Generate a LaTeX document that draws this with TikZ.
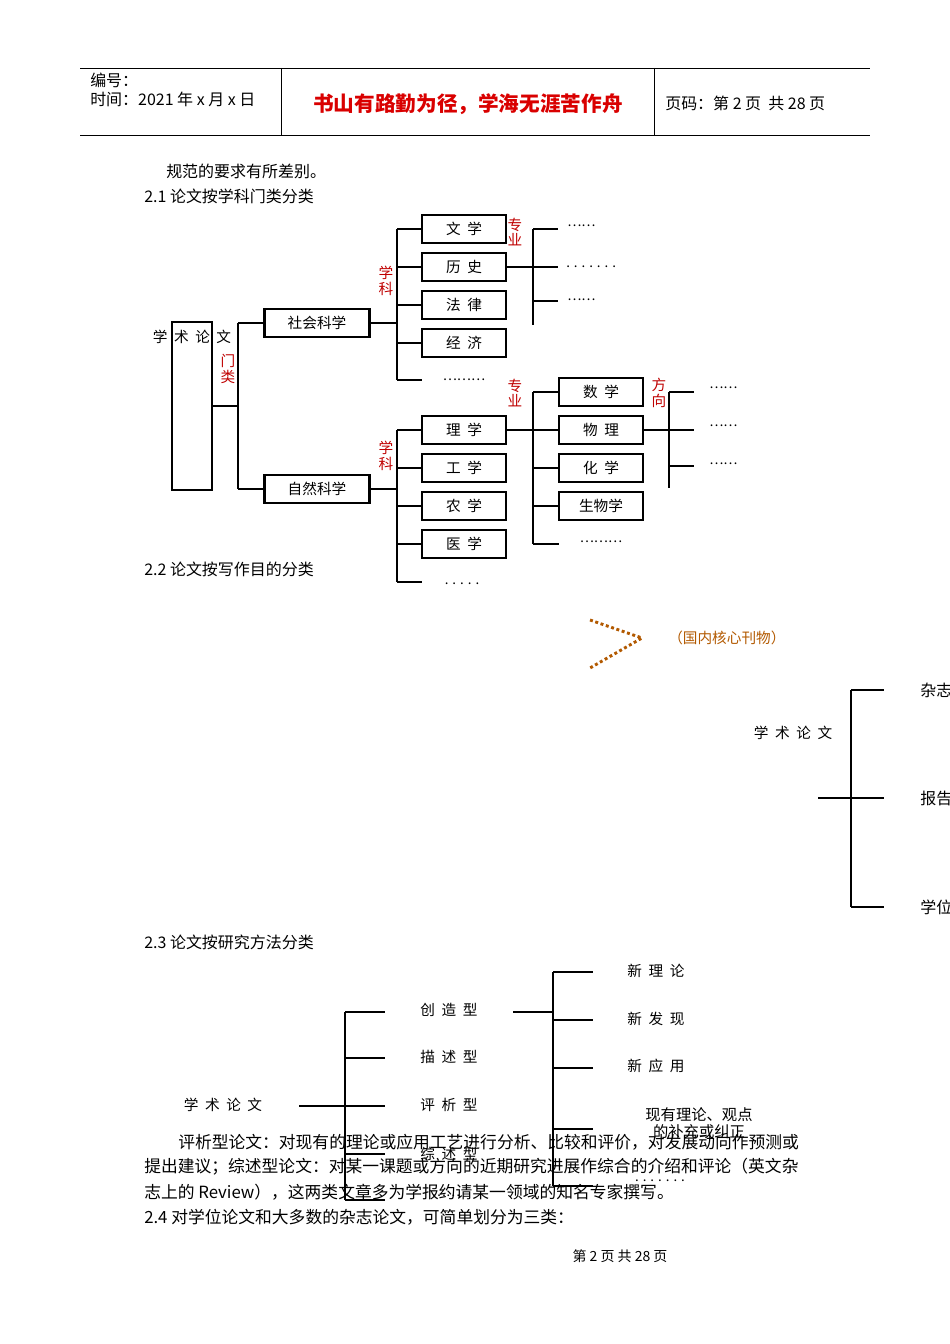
\documentclass[tikz,border=0pt]{standalone}
\usepackage{fontspec}
\setmainfont{Noto Sans CJK SC}
\begin{document}
\begin{tikzpicture}[x=0.0264cm,y=-0.0264cm,
  ln/.style={line width=1.7pt},
  box/.style={draw,line width=1.7pt,minimum width=2.2cm,minimum height=0.74cm,inner sep=0pt,font=\fontsize{11}{12}\selectfont},
  tx/.style={inner sep=0pt,font=\fontsize{11}{12}\selectfont},
  bt/.style={inner sep=0pt,anchor=west,font=\fontsize{12}{13}\selectfont},
  pt/.style={inner sep=0pt,anchor=west,font=\fontsize{12.6}{13}\selectfont},
  rd/.style={inner sep=0pt,text=red!75!black,font=\fontsize{11}{11.5}\selectfont,align=center},
  dt/.style={inner sep=0pt,font=\fontsize{10}{10}\selectfont}]
\useasboundingbox (0,0) rectangle (950,1344);
% header
\draw[line width=0.6pt] (80,68)--(870,68) (80,135)--(870,135) (281,68)--(281,135) (654,68)--(654,135);
\node[bt] (h1) at (90,80) {编号：};
\node[bt] (h2) at (90,99) {时间：2021 年 x 月 x 日};
\node[inner sep=0pt,text=red!85!black,font=\bfseries\fontsize{15.5}{17}\selectfont] (h3) at (468,104) {书山有路勤为径，学海无涯苦作舟};
\node[bt] (h4) at (665,103) {页码：第 2 页\ \ 共 28 页};
% body
\node[bt] (p1) at (166,171) {规范的要求有所差别。};
\node[bt] (p2) at (144,196) {2.1 论文按学科门类分类};
% diagram 1
\node[draw,line width=1.7pt,minimum width=1.06cm,minimum height=4.44cm,inner sep=0pt] (root) at (192,406) {};
\node[tx] (roott) at (192,337) {学\ \ 术\ \ 论\ \ 文};
\node[rd] (ml) at (228,369) {门\\类};
\coordinate (v1t) at (238,323); \coordinate (v1b) at (238,489); \coordinate (v1m) at (238,406);
\draw[ln] (root.east|-v1m)--(v1m) (v1t)--(v1b);
\node[box,minimum width=2.77cm] (sh) at (317,323) {社会科学};
\node[box,minimum width=2.77cm] (zr) at (317,489) {自然科学};
\draw[ln] (v1t)--(sh.west) (v1b)--(zr.west);
% social
\node[box] (wx) at (464,229) {文\ \ 学};
\node[box] (ls) at (464,267) {历\ \ 史};
\node[box] (fl) at (464,305) {法\ \ 律};
\node[box] (jj) at (464,343) {经\ \ 济};
\node[dt] (sd) at (464,380) {………};
\node[rd] (xk1) at (386,281) {学\\科};
\coordinate (s1) at (397,229); \coordinate (s5) at (397,380);
\draw[ln] (sh.east)--(397,323) (s1)--(s5);
\draw[ln] (s1)--(wx.west) (397,267)--(ls.west) (397,305)--(fl.west) (397,343)--(jj.west) (s5)--(422,380);
\node[rd] (zy1) at (515,232) {专\\业};
\coordinate (a1) at (533,229); \coordinate (a3) at (533,325);
\draw[ln] (ls.east)--(533,267) (a1)--(a3) (a1)--(558,229) (533,267)--(558,267) (533,301)--(558,301);
\node[dt,anchor=west] (d1) at (567,226) {……};
\node[dt,anchor=west] (d2) at (566,267) {. . . . . . .};
\node[dt,anchor=west] (d3) at (567,300) {……};
% natural
\node[box] (lx) at (464,430) {理\ \ 学};
\node[box] (gx) at (464,468) {工\ \ 学};
\node[box] (nx) at (464,506) {农\ \ 学};
\node[box] (yx) at (464,544) {医\ \ 学};
\node[dt] (nd) at (462,584) {. . . . .};
\node[rd] (xk2) at (386,456) {学\\科};
\coordinate (n1) at (397,430); \coordinate (n5) at (397,582);
\draw[ln] (zr.east)--(397,489) (n1)--(n5);
\draw[ln] (n1)--(lx.west) (397,468)--(gx.west) (397,506)--(nx.west) (397,544)--(yx.west) (n5)--(422,582);
\node[rd] (zy2) at (515,393) {专\\业};
\node[box] (sx) at (601,392) {数\ \ 学};
\node[box] (wl) at (601,430) {物\ \ 理};
\node[box] (hx) at (601,468) {化\ \ 学};
\node[box] (sw) at (601,506) {生物学};
\node[dt] (md) at (601,542) {………};
\coordinate (m1) at (533,392); \coordinate (m5) at (533,544);
\draw[ln] (lx.east)--(533,430) (m1)--(m5);
\draw[ln] (m1)--(sx.west) (533,430)--(wl.west) (533,468)--(hx.west) (533,506)--(sw.west) (m5)--(559,544);
\node[rd] (fx) at (659,393) {方\\向};
\coordinate (f1) at (669,392); \coordinate (f3) at (669,488);
\draw[ln] (wl.east)--(669,430) (f1)--(f3) (f1)--(694,392) (669,430)--(694,430) (669,466)--(694,466);
\node[dt,anchor=west] (e1) at (709,388) {……};
\node[dt,anchor=west] (e2) at (709,426) {……};
\node[dt,anchor=west] (e3) at (709,464) {……};
\node[bt] (p3) at (144,569) {2.2 论文按写作目的分类};
% chevron
\coordinate (c1) at (590,620); \coordinate (c2) at (642,638); \coordinate (c3) at (590,668);
\draw[orange!70!black,line width=2.2pt,dotted] (c1)--(c2)--(c3);
\node[bt,text=orange!70!black,font=\fontsize{11}{12}\selectfont] (hx2) at (668,638) {（国内核心刊物）};
% diagram 2
\node[tx] (r2) at (793,733) {学\ \ 术\ \ 论\ \ 文};
\coordinate (g1) at (851,690); \coordinate (g3) at (851,907); \coordinate (g2) at (851,798);
\draw[ln] (818,798)--(g2) (g1)--(g3) (g1)--(884,690) (g2)--(884,798) (g3)--(884,907);
\node[bt] (k1) at (920,690) {杂志};
\node[bt] (k2) at (920,798) {报告};
\node[bt] (k3) at (920,907) {学位};
\node[bt] (p4) at (144,942) {2.3 论文按研究方法分类};
% diagram 3
\node[tx] (r3) at (223,1105) {学\ \ 术\ \ 论\ \ 文};
\coordinate (q1) at (345,1012); \coordinate (q5) at (345,1200);
\draw[ln] (299,1106)--(385,1106) (q1)--(q5) (q1)--(385,1012) (345,1058)--(385,1058) (345,1154)--(385,1154) (q5)--(385,1200);
\node[tx] (t1) at (449,1010) {创\ \ 造\ \ 型};
\node[tx] (t2) at (449,1057) {描\ \ 述\ \ 型};
\node[tx] (t3) at (449,1105) {评\ \ 析\ \ 型};
\node[tx] (t4) at (449,1154) {综\ \ 述\ \ 型};
\node[dt] (t5) at (446,1196) {……};
\coordinate (u1) at (553,972); \coordinate (u5) at (553,1186);
\draw[ln] (513,1012)--(553,1012) (u1)--(u5) (u1)--(593,972) (553,1020)--(593,1020) (553,1068)--(593,1068) (553,1129)--(593,1129) (u5)--(593,1186);
\node[tx] (w1) at (656,971) {新\ \ 理\ \ 论};
\node[tx] (w2) at (656,1019) {新\ \ 发\ \ 现};
\node[tx] (w3) at (656,1066) {新\ \ 应\ \ 用};
\node[tx,align=center,font=\fontsize{11.5}{12.5}\selectfont] (w4) at (699,1123) {现有理论、观点\\的补充或纠正};
\node[dt] (w5) at (660,1181) {. . . . . . .};
% paragraphs
\node[pt] (p5) at (178,1142) {评析型论文：对现有的理论或应用工艺进行分析、比较和评价，对发展动向作预测或};
\node[pt] (p6) at (144,1167) {提出建议；综述型论文：对某一课题或方向的近期研究进展作综合的介绍和评论（英文杂};
\node[pt] (p7) at (144,1192) {志上的 Review），这两类文章多为学报约请某一领域的知名专家撰写。};
\node[pt] (p8) at (144,1217) {2.4 对学位论文和大多数的杂志论文，可简单划分为三类：};
\node[tx,font=\fontsize{10.5}{11}\selectfont] (ft) at (620,1256) {第\ 2\ 页\ 共\ 28\ 页};
\end{tikzpicture}
\end{document}
